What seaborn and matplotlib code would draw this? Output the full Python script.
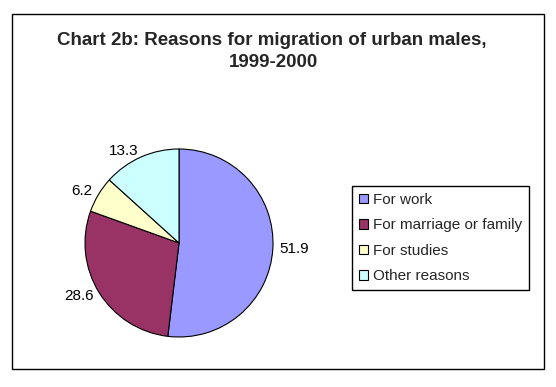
import matplotlib
matplotlib.use("Agg")
import matplotlib.pyplot as plt
import seaborn as sns
from matplotlib.patches import Rectangle, Patch

sns.set_style("white")
plt.rcParams["font.family"] = ["Liberation Sans", "DejaVu Sans"]

# Data
reasons = ["For work", "For marriage or family", "For studies", "Other reasons"]
shares = [51.9, 28.6, 6.2, 13.3]
COLORS = ["#9999FF", "#993366", "#FFFFCC", "#CCFFFF"]

W, H = 556, 387
fig = plt.figure(figsize=(W / 100, H / 100), dpi=100)
fig.patch.set_facecolor("white")

# outer chart-area border
fig.add_artist(Rectangle((12 / W, 1 - 369 / H), (544 - 12) / W, (369 - 14) / H,
                         transform=fig.transFigure, fill=False,
                         edgecolor="black", linewidth=1.0))

fig.text(272 / W, 1 - 45 / H, "Chart 2b: Reasons for migration of urban males,",
         ha="center", va="baseline", fontsize=13.5, fontweight="bold")
fig.text(273 / W, 1 - 67 / H, "1999-2000",
         ha="center", va="baseline", fontsize=13.5, fontweight="bold")

# pie axes: centre (179, 243), radius 94 px
cx, cy, r = 179, 243, 94
ax = fig.add_axes([(cx - r) / W, 1 - (cy + r) / H, 2 * r / W, 2 * r / H])
wedges, texts = ax.pie(
    shares, labels=[f"{v:.1f}" for v in shares], colors=COLORS,
    startangle=90, counterclock=False, labeldistance=1.07,
    wedgeprops=dict(edgecolor="black", linewidth=0.8),
    textprops=dict(fontsize=11, color="black"),
)
ax.set_xlim(-1, 1)
ax.set_ylim(-1, 1)
ax.set_aspect("equal")
ax.axis("off")

handles = [Patch(facecolor=c, edgecolor="black", linewidth=0.8) for c in COLORS]
leg = fig.legend(handles, reasons, loc="upper left",
                 bbox_to_anchor=(352 / W, 1 - 186 / H), borderaxespad=0,
                 fontsize=11, frameon=True, fancybox=False, framealpha=1,
                 edgecolor="black", handlelength=0.6, handleheight=0.6,
                 handletextpad=0.3, labelspacing=0.75, borderpad=0.45)
leg.get_frame().set_linewidth(1.0)

plt.savefig("out.png", dpi=100)
